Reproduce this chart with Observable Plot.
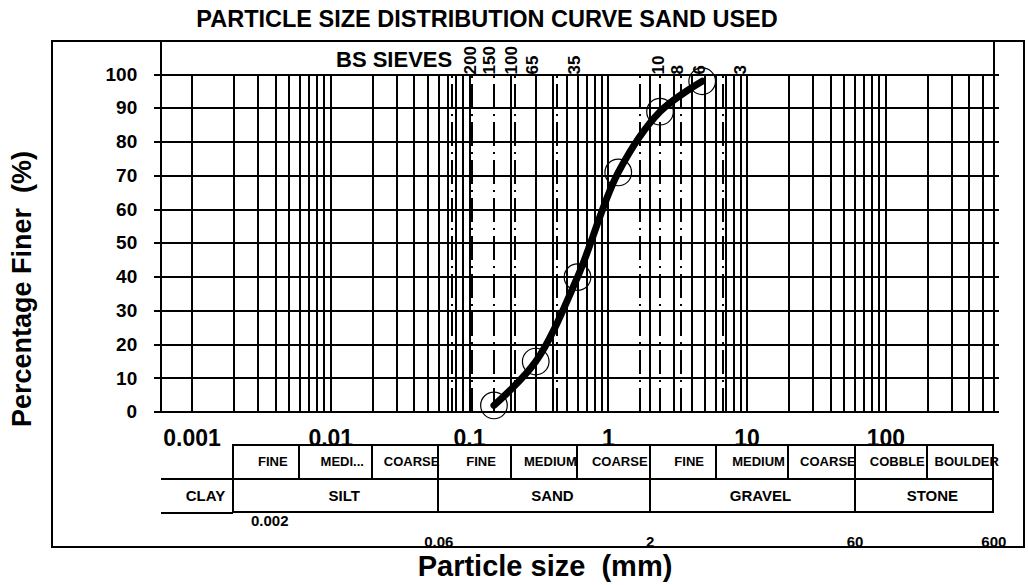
<!DOCTYPE html>
<html><head><meta charset="utf-8">
<script src="https://cdn.jsdelivr.net/npm/d3@7"></script>
<script src="https://cdn.jsdelivr.net/npm/@observablehq/plot@0.6"></script>
<style>
body{margin:0;background:#fff;}
#wrap{position:relative;width:1028px;height:585px;overflow:hidden;font-family:"Liberation Sans",Arial,sans-serif;}
#wrap svg{position:absolute;left:0;top:0;background:transparent !important;font-family:"Liberation Sans",Arial,sans-serif !important;max-width:none !important;}
.lbl{position:absolute;font-weight:bold;white-space:pre;line-height:1;color:#000;font-family:"Liberation Sans",Arial,sans-serif;}
#title{left:487px;top:8px;font-size:23.5px;transform:translateX(-50%);}
#xtitle{left:545px;top:552px;font-size:29px;transform:translateX(-50%);}
#ytitle{left:22.3px;top:288.5px;font-size:27px;transform:translate(-50%,-50%) rotate(-90deg);}
</style></head><body>
<div id="wrap"></div>
<script>
// ---- data ----
const particleSize = [0.15, 0.3, 0.6, 1.18, 2.36, 4.75];   // mm
const percentFiner = [2, 15, 40, 71, 89, 98];               // %

const sieveLabels = ["200", "150", "100", "65", "35", "10", "8", "6", "3"];
const sieveSizes  = [0.075, 0.104, 0.15, 0.212, 0.425, 1.7, 2.36, 3.35, 6.7];

const yTicks = [0, 10, 20, 30, 40, 50, 60, 70, 80, 90, 100];
const xTickLabels = ["0.001", "0.01", "0.1", "1", "10", "100"];
const xTickValues = [0.001, 0.01, 0.1, 1, 10, 100];

const gridMantissas = [1, 2, 3, 4, 5, 6, 7, 8, 9];
const gridDecades = [0.001, 0.01, 0.1, 1, 10];
const gridTop = [100, 200, 300, 400, 500, 600];

const subClasses = ["FINE", "MEDI...", "COARSE", "FINE", "MEDIUM", "COARSE", "FINE", "MEDIUM", "COARSE", "COBBLE", "BOULDER"];
const subBounds  = [0.002, 0.006, 0.02, 0.06, 0.2, 0.6, 2, 6, 20, 60, 200, 600];
const mainClasses = ["CLAY", "SILT", "SAND", "GRAVEL", "STONE"];
const mainBounds  = [0.0006, 0.002, 0.06, 2, 60, 600];
const boundaryLabels = ["0.002", "0.06", "2", "60", "600"];
const boundaryValues = [0.002, 0.06, 2, 60, 600];

const titleText = "PARTICLE SIZE DISTRIBUTION CURVE SAND USED";
const xTitle = "Particle size  (mm)";
const yTitle = "Percentage Finer  (%)";

// ---- tables built from the arrays ----
const curveData = particleSize.map((s, i) => ({size: s, finer: percentFiner[i]}));
const sieves = sieveLabels.map((l, i) => ({label: l, size: sieveSizes[i]}));
const xTicks = xTickLabels.map((l, i) => ({label: l, value: xTickValues[i]}));
const gridX = gridDecades.flatMap(d => gridMantissas.map(m => m * d)).concat(gridTop);
const subCells = subClasses.map((l, i) => ({label: l, from: subBounds[i], to: subBounds[i + 1]}));
const mainCells = mainClasses.map((l, i) => ({label: l, from: mainBounds[i], to: mainBounds[i + 1]}));
const boundaries = boundaryLabels.map((l, i) => ({label: l, value: boundaryValues[i]}));

const W = 1028, H = 585;
const ML = 160.7, MR = 34.7;
const xScale = {type: "log", domain: [mainBounds[0], 600], axis: null};
const ink = "black";
const B = {fontWeight: "bold", fill: ink};
const crisp = {stroke: ink, strokeWidth: 2, shapeRendering: "crispEdges"};

const main = Plot.plot({
  width: W, height: H,
  marginLeft: ML, marginRight: MR, marginTop: 74, marginBottom: H - 411.7,
  x: xScale,
  y: {domain: [0, 100], axis: null},
  marks: [
    Plot.ruleX(gridX, {y1: 0, y2: 100, ...crisp}),
    Plot.ruleY(yTicks, {...crisp, insetLeft: -6.7, insetRight: -5.7}),
    Plot.ruleX(sieves, {x: "size", y1: 0, y2: 100, ...crisp, strokeDasharray: "24,6,2,6"}),
    Plot.frame({...crisp, insetTop: -33.3}),
    Plot.frame({...crisp, insetTop: -33.3, insetLeft: -109, insetRight: -30, insetBottom: -135}),
    Plot.text(yTicks, {y: d => d, frameAnchor: "left", dx: -24, textAnchor: "end", fontSize: 19, ...B}),
    Plot.text(xTicks, {x: "value", text: "label", frameAnchor: "bottom", dy: 33.3, fontSize: 23, ...B}),
    Plot.text(sieves, {x: "size", y: 100, text: "label", rotate: -90, textAnchor: "start", dx: 18, fontSize: 17, ...B}),
    Plot.text(["BS SIEVES"], {x: sieveSizes[0], y: 100, textAnchor: "end", dy: -15, fontSize: 22, ...B}),
    Plot.line(curveData, {x: "size", y: "finer", curve: "catmull-rom", stroke: ink, strokeWidth: 7}),
    Plot.dot(curveData, {x: "size", y: "finer", r: 13.3, stroke: ink, strokeWidth: 1.2, fill: "none"})
  ]
});

const table = Plot.plot({
  width: W, height: H,
  marginLeft: ML, marginRight: MR, marginTop: 445, marginBottom: H - 512.3,
  x: xScale,
  y: {domain: [0, 2], range: [445, 512.3], axis: null},
  marks: [
    Plot.rect(subCells, {x1: "from", x2: "to", y1: 0, y2: 1, fill: "none", ...crisp}),
    Plot.rect(mainCells.slice(1), {x1: "from", x2: "to", y1: 1, y2: 2, fill: "none", ...crisp}),
    Plot.ruleY([1, 2], {x1: mainBounds[0], x2: mainBounds[1], ...crisp}),
    Plot.text(subCells, {x: d => Math.sqrt(d.from * d.to), y: 0.5, text: "label", dx: 6, fontSize: 13, ...B}),
    Plot.text(mainCells, {x: d => Math.sqrt(d.from * d.to), y: 1.5, text: "label", dx: 8, fontSize: 15, ...B}),
    Plot.text(boundaries.slice(0, 1), {x: "value", y: 2, text: "label", dx: 36, dy: 8.4, fontSize: 15, ...B}),
    Plot.text(boundaries.slice(1), {x: "value", y: 2, text: "label", dy: 29, fontSize: 15, ...B})
  ]
});

const wrap = document.getElementById("wrap");
wrap.appendChild(main);
wrap.appendChild(table);
for (const [id, txt] of [["title", titleText], ["xtitle", xTitle], ["ytitle", yTitle]]) {
  const d = document.createElement("div");
  d.className = "lbl"; d.id = id; d.textContent = txt;
  wrap.appendChild(d);
}
</script>
</body></html>
